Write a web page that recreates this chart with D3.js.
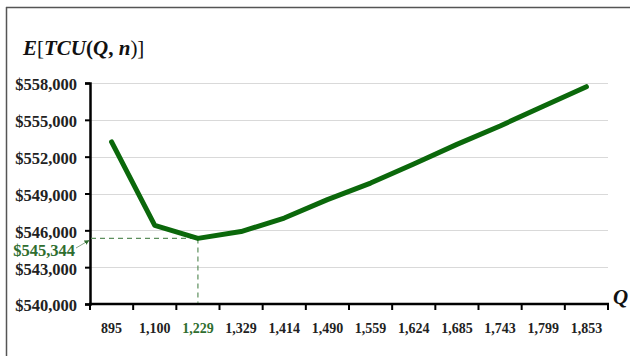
<!DOCTYPE html>
<html><head><meta charset="utf-8">
<script src="https://cdn.jsdelivr.net/npm/d3@7"></script>
<style>body{margin:0;background:#fff}svg{display:block}</style>
</head><body>
<svg id="c" width="630" height="356"></svg>
<script>
const categories = ["895","1,100","1,229","1,329","1,414","1,490","1,559","1,624","1,685","1,743","1,799","1,853"];
const costValues = [553200, 546400, 545344, 545900, 547000, 548500, 549850, 551400, 553000, 554500, 556100, 557700];
const yTicks = [540000, 543000, 546000, 549000, 552000, 555000, 558000];
const optimumIndex = 2;
const optimumLabel = "$545,344";

const svg = d3.select("#c");
const x = d3.scaleBand().domain(categories).range([90, 608]).padding(0);
const y = d3.scaleLinear().domain([540000, 558000]).range([304, 83]);
const green = "#0b680b";
const serif = "'Liberation Serif','Times New Roman',serif";

// frame
svg.append("line").attr("x1",6).attr("x2",630).attr("y1",7.5).attr("y2",7.5).attr("stroke","#555").attr("stroke-width",1.5);
svg.append("line").attr("x1",6.5).attr("x2",6.5).attr("y1",7).attr("y2",356).attr("stroke","#555").attr("stroke-width",1.5);

// gridlines
svg.append("g").selectAll("line").data(yTicks.slice(1)).join("line")
  .attr("x1",90).attr("x2",608).attr("y1",d=>Math.round(y(d))+0.5).attr("y2",d=>Math.round(y(d))+0.5)
  .attr("stroke","#d9d9d9").attr("stroke-width",1);

// y axis
const fmt = d => "$" + d3.format(",")(d);
const ya = svg.append("g").attr("transform","translate(90,0)")
  .call(d3.axisLeft(y).tickValues(yTicks).tickFormat(fmt).tickSize(5).tickPadding(8));
ya.select(".domain").attr("stroke","#000").attr("stroke-width",2.5);
ya.selectAll(".tick line").attr("stroke","#000").attr("stroke-width",2);
ya.selectAll(".tick text").attr("font-family",serif).attr("font-size",16.5).attr("font-weight","bold").attr("fill","#222").attr("dy","0.42em");

// x axis with boundary ticks
const xa = svg.append("g");
xa.append("line").attr("x1",89).attr("x2",609).attr("y1",304).attr("y2",304).attr("stroke","#000").attr("stroke-width",2.5);
const bounds = categories.map(c => x(c)).concat([x(categories[categories.length-1]) + x.bandwidth()]);
xa.selectAll("line.tk").data(bounds).join("line").attr("class","tk")
  .attr("x1",d=>d).attr("x2",d=>d).attr("y1",304).attr("y2",310).attr("stroke","#000").attr("stroke-width",2);
xa.selectAll("text").data(categories).join("text")
  .attr("x",d=>x(d)+x.bandwidth()/2).attr("y",333).attr("text-anchor","middle")
  .attr("font-family",serif).attr("font-size",14).attr("font-weight","bold")
  .attr("fill",(d,i)=>i===optimumIndex?"#2f6e2f":"#222").text(d=>d);

// dashed optimum guides
const ox = x(categories[optimumIndex]) + x.bandwidth()/2, oy = y(costValues[optimumIndex]);
svg.append("line").attr("x1",91).attr("x2",ox).attr("y1",oy).attr("y2",oy)
  .attr("stroke","#5d8f5d").attr("stroke-width",1.2).attr("stroke-dasharray","5,4");
svg.append("line").attr("x1",ox).attr("x2",ox).attr("y1",oy).attr("y2",303)
  .attr("stroke","#5d8f5d").attr("stroke-width",1.2).attr("stroke-dasharray","5,4");

// line
const line = d3.line().x((d,i)=>x(categories[i])+x.bandwidth()/2).y(d=>y(d));
svg.append("path").datum(costValues).attr("d",line).attr("fill","none")
  .attr("stroke",green).attr("stroke-width",5).attr("stroke-linejoin","round").attr("stroke-linecap","round");

// optimum label and arrow
svg.append("defs").append("marker").attr("id","ah").attr("viewBox","0 0 10 10").attr("refX",9).attr("refY",5)
  .attr("markerWidth",5).attr("markerHeight",5).attr("orient","auto")
  .append("path").attr("d","M0,0L10,5L0,10z").attr("fill","#2f6e2f");
svg.append("line").attr("x1",76).attr("y1",248).attr("y2",oy+2).attr("x2",89)
  .attr("stroke","#8aa88a").attr("stroke-width",1).attr("marker-end","url(#ah)");
svg.append("text").attr("x",75).attr("y",256).attr("text-anchor","end")
  .attr("font-family",serif).attr("font-size",16.5).attr("font-weight","bold").attr("fill","#2f6e2f").text(optimumLabel);

// title
const t = svg.append("text").attr("x",23).attr("y",55).attr("font-family",serif).attr("font-size",21).attr("fill","#111");
[["E","italic","bold"],["[","normal","normal"],["TCU","italic","bold"],["(","normal","bold"],["Q","italic","bold"],[", ","normal","bold"],["n","italic","bold"],[")]","normal","normal"]]
  .forEach(([s,st,w])=>t.append("tspan").attr("font-style",st).attr("font-weight",w).text(s));

// Q axis label
svg.append("text").attr("x",613).attr("y",304).attr("font-family",serif).attr("font-size",21)
  .attr("font-style","italic").attr("font-weight","bold").attr("fill","#111").text("Q");
</script>
</body></html>
